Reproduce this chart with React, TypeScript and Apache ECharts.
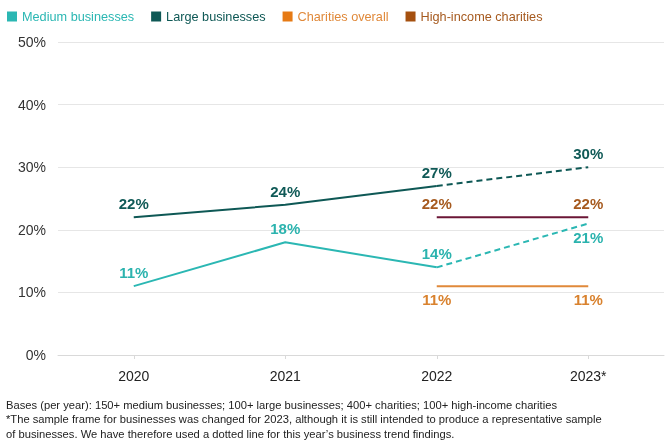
import React, { useEffect, useRef } from "react";
import * as echarts from "echarts";

const categories = ["2020", "2021", "2022", "2023*"];
const medium = [11, 18, 14, 21];
const large = [22, 24, 27, 30];
const charities = [null, null, 11, 11];
const highIncome = [null, null, 22, 22];
const yTicks = [0, 10, 20, 30, 40, 50];
const footnotes = [
  "Bases (per year): 150+ medium businesses; 100+ large businesses; 400+ charities; 100+ high-income charities",
  "*The sample frame for businesses was changed for 2023, although it is still intended to produce a representative sample",
  "of businesses. We have therefore used a dotted line for this year\u2019s business trend findings.",
];

const C = {
  medium: "#2bb7b3",
  mediumLabel: "#2bb3ae",
  large: "#0e5855",
  largeLabel: "#105a57",
  charities: "#e0893a",
  charitiesLabel: "#d9822e",
  high: "#6b1636",
  highLabel: "#a65a1f",
  highLegend: "#a5500f",
  charitiesLegend: "#e67a14",
};

const FONT = "Liberation Sans, Arial, sans-serif";

function labelled(
  values: (number | null)[],
  show: (i: number) => boolean,
  pos: (i: number) => string,
  color: string
) {
  return values.map((v, i) => ({
    value: v,
    label: {
      show: v !== null && show(i),
      position: pos(i),
      distance: 6,
      formatter: "{c}%",
      color,
      fontSize: 15,
      fontWeight: "bold",
      fontFamily: FONT,
    },
  }));
}

export default function App() {
  const ref = useRef<HTMLDivElement>(null);
  useEffect(() => {
    if (!ref.current) return;
    const chart = echarts.init(ref.current, null, { renderer: "svg" });
    const solid = (arr: (number | null)[]) => arr.map((v, i) => (i <= 2 ? v : null));
    const dashed = (arr: (number | null)[]) => arr.map((v, i) => (i >= 2 ? v : null));
    const lineBase = {
      type: "line",
      symbol: "circle",
      symbolSize: 0,
      showSymbol: true,
      connectNulls: false,
      z: 2,
    };
    chart.setOption({
      animation: false,
      textStyle: { fontFamily: FONT },
      legend: {
        left: 2,
        top: 5,
        icon: "rect",
        itemWidth: 10,
        itemHeight: 10,
        itemGap: 17,
        textStyle: { fontSize: 12.7, fontFamily: FONT },
        data: [
          { name: "Medium businesses", itemStyle: { color: C.medium }, textStyle: { color: C.medium } },
          { name: "Large businesses", itemStyle: { color: C.large }, textStyle: { color: C.large } },
          { name: "Charities overall", itemStyle: { color: C.charitiesLegend }, textStyle: { color: C.charities } },
          { name: "High-income charities", itemStyle: { color: C.highLegend }, textStyle: { color: C.highLabel } },
        ],
        selectedMode: false,
      },
      grid: { left: 58, right: 6, top: 42, bottom: 91, containLabel: false },
      xAxis: {
        type: "category",
        data: categories,
        boundaryGap: true,
        axisLine: { lineStyle: { color: "#d9d9d9" } },
        axisTick: { show: true, alignWithLabel: true, length: 4, lineStyle: { color: "#d9d9d9" } },
        axisLabel: { color: "#222", fontSize: 14, margin: 14, fontFamily: FONT },
      },
      yAxis: {
        type: "value",
        min: yTicks[0],
        max: yTicks[yTicks.length - 1],
        interval: 10,
        axisLine: { show: false },
        axisTick: { show: false },
        axisLabel: { formatter: "{value}%", color: "#333", fontSize: 14, margin: 12, fontFamily: FONT },
        splitLine: { lineStyle: { color: "#e6e6e6" } },
      },
      series: [
        {
          ...lineBase,
          name: "Medium businesses",
          data: labelled(solid(medium), () => true, () => "top", C.mediumLabel),
          lineStyle: { color: C.medium, width: 2 },
          itemStyle: { color: C.medium },
        },
        {
          ...lineBase,
          name: "Medium businesses (2023)",
          data: labelled(dashed(medium), (i) => i === 3, () => "bottom", C.mediumLabel),
          lineStyle: { color: C.medium, width: 2, type: [6, 4] },
          itemStyle: { color: C.medium },
        },
        {
          ...lineBase,
          name: "Large businesses",
          data: labelled(solid(large), () => true, () => "top", C.largeLabel),
          lineStyle: { color: C.large, width: 2 },
          itemStyle: { color: C.large },
        },
        {
          ...lineBase,
          name: "Large businesses (2023)",
          data: labelled(dashed(large), (i) => i === 3, () => "top", C.largeLabel),
          lineStyle: { color: C.large, width: 2, type: [6, 4] },
          itemStyle: { color: C.large },
        },
        {
          ...lineBase,
          name: "Charities overall",
          data: labelled(charities, () => true, () => "bottom", C.charitiesLabel),
          lineStyle: { color: C.charities, width: 2 },
          itemStyle: { color: C.charitiesLegend },
        },
        {
          ...lineBase,
          name: "High-income charities",
          data: labelled(highIncome, () => true, () => "top", C.highLabel),
          lineStyle: { color: C.high, width: 2 },
          itemStyle: { color: C.highLegend },
        },
      ],
      graphic: footnotes.map((t, i) => ({
        type: "text",
        left: 6,
        top: 399 + i * 14.5,
        style: { text: t, fill: "#222", fontSize: 11.2, fontFamily: FONT },
      })),
    });
    return () => chart.dispose();
  }, []);
  return <div ref={ref} style={{ width: 670, height: 446, position: "fixed", left: 0, top: 0 }} />;
}
